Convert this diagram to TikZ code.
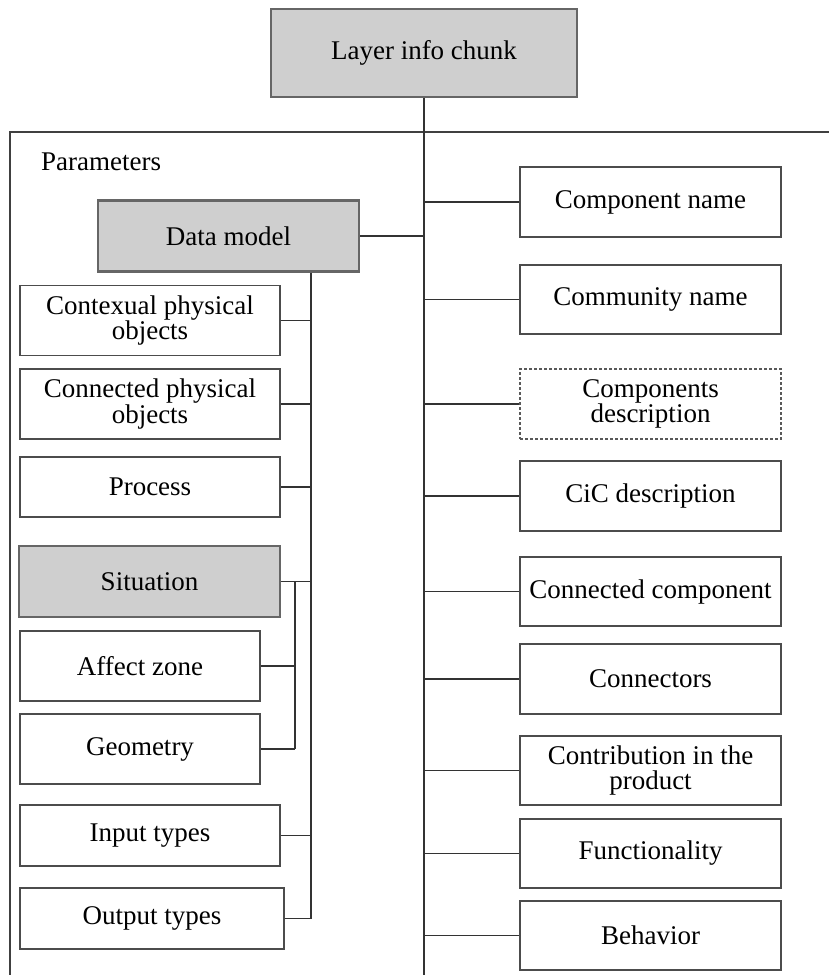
\documentclass[tikz,border=0pt]{standalone}
\usepackage{fontspec}
\setmainfont{Liberation Serif}
\begin{document}
\begin{tikzpicture}[x=1pt,y=-1pt,
  every node/.style={font=\fontsize{27}{25.5}\selectfont, align=center, inner sep=0pt},
  plain/.style={draw=black!70, line width=1.6pt, fill=white, minimum width=260pt, minimum height=70pt},
  greybox/.style={draw=black!60, line width=2.2pt, fill=black!19, minimum width=261pt, minimum height=71pt},
  dashbox/.style={plain, dash pattern=on 3pt off 2pt, line width=1.4pt, draw=black!65},
  link/.style={draw=black!80, line width=1.5pt},
  frame/.style={draw=black!75, line width=1.6pt}]
\useasboundingbox (0,0) rectangle (829,975);
% top
\node[greybox, minimum width=306pt, minimum height=88pt] (layer) at (424,53) {Layer info chunk};
\coordinate (fl) at (10,132);
\coordinate (fr) at (829,132);
\coordinate (fb) at (10,975);
\coordinate (mb) at (424,975);
\draw[frame] (fb) -- (fl) -- (fr);
\draw[link] (layer.south) -- (mb);
\node[anchor=west] (params) at (41,162) {Parameters};
% left column
\node[greybox] (dm) at (228.5,236) {Data model};
\node[plain] (ctx) at (150,320.5) {Contexual physical\\objects};
\node[plain] (cpo) at (150,404) {Connected physical\\objects};
\node[plain, minimum height=60pt] (proc) at (150,487) {Process};
\node[greybox] (sit) at (149.5,581.5) {Situation};
\node[plain, minimum width=240pt] (aff) at (140,666) {Affect zone};
\node[plain, minimum width=240pt] (geo) at (140,749) {Geometry};
\node[plain, minimum height=61pt] (inp) at (150,835.5) {Input types};
\node[plain, minimum width=264pt, minimum height=61pt] (outp) at (152,918.5) {Output types};
\coordinate (dmv) at (311,918.5);
\coordinate (sv) at (295,749);
\draw[link] (dm.east) -- (dm.east -| layer.south);
\draw[link] (dm.south -| dmv) -- (dmv);
\foreach \n in {ctx,cpo,proc,sit,inp,outp}
  \draw[link] (\n.east) -- (\n.east -| dmv);
\draw[link] (sit.east -| sv) -- (sv);
\foreach \n in {aff,geo}
  \draw[link] (\n.east) -- (\n.east -| sv);
% right column
\node[plain, minimum width=261pt] (r1) at (650.5,202) {Component name};
\node[plain, minimum width=261pt, minimum height=69pt] (r2) at (650.5,299.5) {Community name};
\node[dashbox, minimum width=261pt] (r3) at (650.5,404) {Components\\description};
\node[plain, minimum width=261pt] (r4) at (650.5,496) {CiC description};
\node[plain, minimum width=261pt, minimum height=69pt] (r5) at (650.5,591.5) {Connected component};
\node[plain, minimum width=261pt] (r6) at (650.5,679) {Connectors};
\node[plain, minimum width=261pt, minimum height=69pt] (r7) at (650.5,770.5) {Contribution in the\\product};
\node[plain, minimum width=261pt, minimum height=69pt] (r8) at (650.5,853.5) {Functionality};
\node[plain, minimum width=261pt, minimum height=69pt] (r9) at (650.5,935.5) {Behavior};
\foreach \n in {r1,r2,r3,r4,r5,r6,r7,r8,r9}
  \draw[link] (\n.west -| layer.south) -- (\n.west);
\end{tikzpicture}
\end{document}
